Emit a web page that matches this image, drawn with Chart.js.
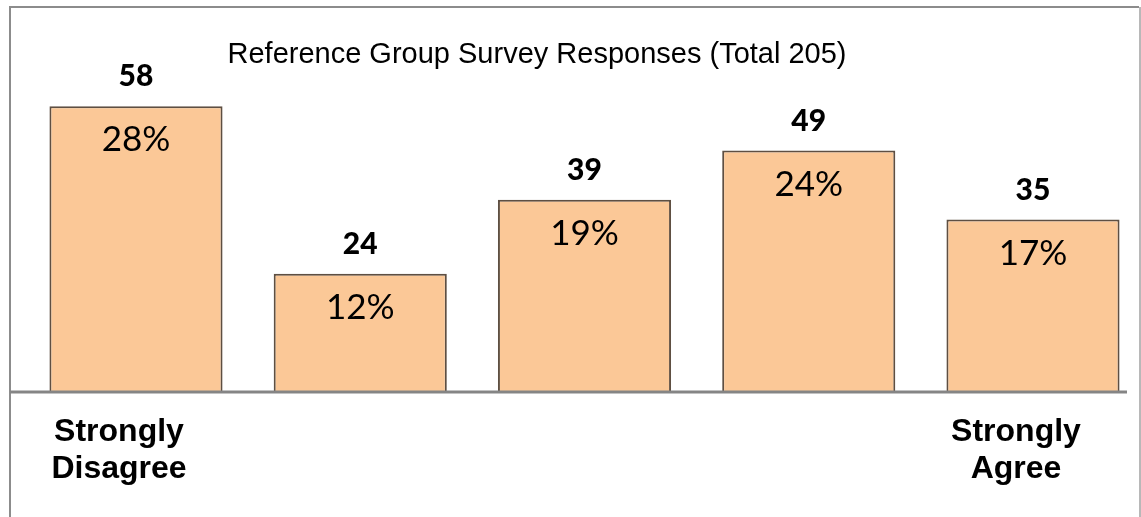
<!DOCTYPE html>
<html>
<head>
<meta charset="utf-8">
<script src="https://cdn.jsdelivr.net/npm/chart.js@4"></script>
<style>
  body { margin: 0; background: #ffffff; }
  #wrap { width: 1141px; height: 517px; position: relative; }
</style>
</head>
<body>
<div id="wrap"><canvas id="myChart" width="1141" height="517"></canvas></div>
<script>
// data
const categories = [['Strongly', 'Disagree'], '', '', '', ['Strongly', 'Agree']];
const responses = [58, 24, 39, 49, 35];
const totalResponses = 205;
const chartTitle = 'Reference Group Survey Responses (Total ' + totalResponses + ')';

// frame, baseline, title and the two rows of bar labels
const decorPlugin = {
    id: 'decor',
    beforeDraw(chart) {
        const c = chart.ctx;
        c.save();
        c.fillStyle = '#ffffff';
        c.fillRect(0, 0, chart.width, chart.height);
        c.restore();
    },
    afterDatasetsDraw(chart) {
        const c = chart.ctx;
        const y0 = chart.scales.y.getPixelForValue(0);
        c.save();

        // outer frame
        c.strokeStyle = '#8c8c8c';
        c.lineWidth = 2;
        c.beginPath();
        c.moveTo(10, chart.height);
        c.lineTo(10, 7);
        c.lineTo(1139, 7);
        c.stroke();
        c.strokeStyle = '#b8b8b8';
        c.beginPath();
        c.moveTo(1140, 7);
        c.lineTo(1140, chart.height);
        c.stroke();

        // baseline
        c.strokeStyle = '#858585';
        c.lineWidth = 3;
        c.beginPath();
        c.moveTo(10, y0);
        c.lineTo(1127, y0);
        c.stroke();

        // title
        c.fillStyle = '#000000';
        c.font = '29px "Liberation Sans", Arial, sans-serif';
        c.textAlign = 'center';
        c.textBaseline = 'alphabetic';
        c.fillText(chartTitle, 537, 63);

        // counts above, percentages inside
        const meta = chart.getDatasetMeta(0);
        meta.data.forEach(function(bar, i) {
            const v = responses[i];
            const pct = Math.round(v / totalResponses * 100) + '%';
            c.font = '900 30px Lato, "Open Sans", sans-serif';
            c.fillText(String(v), bar.x, bar.y - 20);
            c.font = '35px Lato, "Open Sans", sans-serif';
            c.fillText(pct, bar.x, bar.y + 45);
        });
        c.restore();
    }
};

const ctx = document.getElementById('myChart').getContext('2d');
const myChart = new Chart(ctx, {
    type: 'bar',
    data: {
        labels: categories,
        datasets: [{
            label: 'Responses',
            data: responses,
            backgroundColor: '#fbc897',
            borderColor: '#5e4f42',
            borderWidth: 2,
            borderSkipped: 'bottom',
            clip: false,
            barPercentage: 0.772,
            categoryPercentage: 1
        }]
    },
    options: {
        responsive: false,
        animation: false,
        layout: {
            padding: { top: 47, left: 136, right: 108, bottom: 0 }
        },
        plugins: {
            legend: { display: false },
            title: { display: false },
            tooltip: { enabled: false }
        },
        scales: {
            x: {
                offset: false,
                grid: { display: false, drawTicks: false },
                border: { display: false },
                afterFit: function(scale) { scale.height = 125; },
                ticks: {
                    color: '#000000',
                    padding: 21,
                    labelOffset: -17,
                    maxRotation: 0,
                    autoSkip: false,
                    font: { family: '"Liberation Sans", Arial, sans-serif', size: 32, weight: 'bold', lineHeight: 1.17 }
                }
            },
            y: {
                display: false,
                min: 0,
                max: 70
            }
        }
    },
    plugins: [decorPlugin]
});
</script>
</body>
</html>
